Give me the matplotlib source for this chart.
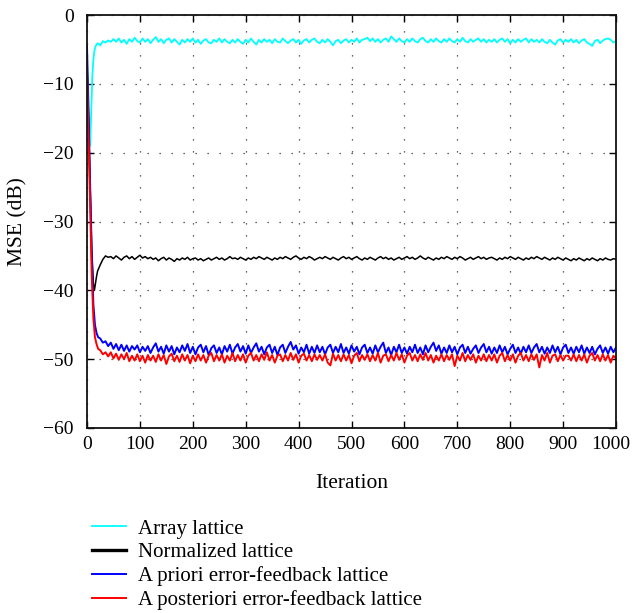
import numpy as np
import matplotlib
matplotlib.use("Agg")
import matplotlib.pyplot as plt
import matplotlib.transforms as mtransforms

# ---------------- data ----------------
# transient part (explicit iterations)
it_cyan_tr = [0, 2, 4, 6, 8, 10, 12, 14, 16, 18, 20, 25, 30, 35, 40]
cyan_tr = [-7.5, -10.0, -16.0, -19.0, -14.0, -9.0, -6.5, -5.2, -4.6, -4.3, -4.1, -4.4, -3.8, -4.0, -3.7]

it_black_tr = [0, 3, 6, 9, 12, 14, 16, 18, 20, 25, 30, 35, 40]
black_tr = [-8.0, -15.0, -25.0, -34.0, -39.0, -40.0, -39.0, -38.0, -37.2, -36.3, -35.5, -35.0, -35.2]

it_blue_tr = [0, 3, 6, 9, 12, 15, 18, 21, 25, 30, 35, 40]
blue_tr = [-4.5, -15.0, -25.0, -35.0, -42.0, -45.0, -46.2, -46.8, -47.0, -47.6, -47.4, -48.1]

it_red_tr = [0, 3, 6, 9, 12, 15, 18, 21, 25, 30, 35, 40]
red_tr = [-8.0, -18.0, -28.0, -38.0, -44.0, -46.8, -47.8, -48.5, -48.7, -49.3, -49.0, -49.6]

# steady-state part: iterations 45, 50, ..., 1000
it_ss = list(range(45, 1001, 5))

cyan_ss = [
    -3.9, -3.5, -3.9, -3.4, -4.0, -3.6, -4.2, -3.5, -3.9, -3.3, -3.8, -4.0, -3.4, -3.9, -3.5, -4.1,
    -3.6, -3.2, -3.9, -3.5, -4.1, -3.6, -3.4, -4.0, -3.5, -3.9, -4.3, -3.6, -4.0, -3.5, -3.9, -3.4,
    -4.0, -3.6, -4.2, -3.7, -3.5, -4.0, -4.1, -3.6, -3.9, -3.4, -4.0, -3.5, -3.9, -4.1, -3.6, -4.0,
    -3.5, -3.9, -4.2, -3.6, -4.0, -3.4, -3.9, -4.3, -3.6, -4.0, -3.5, -3.9, -3.6, -4.1, -3.5, -3.9,
    -4.0, -3.4, -3.8, -4.1, -3.7, -3.5, -4.0, -3.6, -4.2, -3.7, -3.5, -4.0, -3.6, -3.4, -3.9, -4.1,
    -3.6, -4.0, -3.5, -3.9, -4.4, -3.8, -3.6, -4.1, -3.7, -3.5, -4.0, -3.6, -3.9, -3.4, -4.0, -3.6,
    -3.5, -3.3, -3.8, -3.4, -3.9, -3.5, -4.0, -3.6, -3.4, -3.9, -3.1, -3.5, -3.9, -3.4, -3.8, -4.0,
    -3.5, -3.9, -3.4, -3.8, -4.0, -3.5, -3.3, -3.8, -4.0, -3.5, -3.9, -3.4, -3.8, -4.0, -3.5, -3.9,
    -3.4, -3.8, -4.0, -3.5, -3.9, -3.3, -3.8, -4.0, -3.5, -3.9, -3.6, -3.4, -3.9, -3.5, -4.0, -3.6,
    -3.9, -3.5, -4.0, -3.6, -3.4, -3.9, -3.5, -4.1, -3.6, -4.0, -3.5, -3.9, -3.6, -3.4, -4.0, -3.5,
    -3.9, -3.6, -4.0, -3.5, -3.9, -4.1, -3.6, -4.0, -4.3, -3.7, -3.5, -4.0, -3.6, -3.9, -3.5, -4.0,
    -3.6, -4.1, -3.7, -3.5, -4.0, -4.2, -4.5, -3.8, -3.6, -4.1, -3.7, -3.5, -3.4, -3.6, -4.0, -3.8,
]

black_ss = [
    -35.1, -35.4, -35.0, -35.3, -35.6, -35.2, -35.0, -35.4, -35.1, -35.5, -35.2, -34.9, -35.3, -35.1, -35.4, -35.2,
    -35.5, -35.3, -35.7, -35.4, -35.2, -35.6, -35.3, -35.5, -35.8, -35.4, -35.6, -35.3, -35.5, -35.2, -35.6, -35.4,
    -35.3, -35.6, -35.4, -35.7, -35.5, -35.3, -35.6, -35.4, -35.2, -35.5, -35.3, -35.6, -35.4, -35.1, -35.4, -35.3,
    -35.5, -35.2, -35.4, -35.6, -35.3, -35.5, -35.2, -35.4, -35.1, -35.3, -35.5, -35.2, -35.4, -35.6, -35.3, -35.5,
    -35.2, -35.4, -35.1, -35.3, -35.5, -35.2, -35.0, -35.3, -35.5, -35.2, -35.4, -35.1, -35.3, -35.6, -35.4, -35.2,
    -35.4, -35.1, -35.3, -35.5, -35.2, -35.4, -35.6, -35.3, -35.1, -35.4, -35.2, -35.5, -35.3, -35.1, -35.4, -35.6,
    -35.3, -35.5, -35.2, -35.4, -35.6, -35.3, -35.1, -35.4, -35.2, -35.5, -35.3, -35.6, -35.4, -35.2, -35.5, -35.3,
    -35.1, -35.4, -35.2, -35.5, -35.3, -35.0, -35.3, -35.5, -35.2, -35.4, -35.6, -35.3, -35.5, -35.2, -35.4, -35.1,
    -35.3, -35.5, -35.2, -35.4, -35.1, -35.3, -35.6, -35.4, -35.2, -35.5, -35.3, -35.1, -35.4, -35.2, -35.5, -35.3,
    -35.2, -35.4, -35.6, -35.3, -35.5, -35.2, -35.4, -35.1, -35.3, -35.5, -35.2, -35.4, -35.6, -35.3, -35.5, -35.2,
    -35.4, -35.1, -35.3, -35.5, -35.2, -35.4, -35.6, -35.3, -35.5, -35.2, -35.4, -35.6, -35.3, -35.5, -35.7, -35.4,
    -35.6, -35.3, -35.5, -35.7, -35.4, -35.6, -35.3, -35.5, -35.7, -35.4, -35.6, -35.3, -35.5, -35.6, -35.4, -35.5,
]

blue_ss = [
    -47.6, -48.5, -47.8, -48.7, -47.9, -48.8, -48.0, -48.9, -48.1, -48.6, -48.0, -49.0, -48.2, -48.8, -48.1, -49.1,
    -48.3, -47.7, -48.9, -48.2, -49.2, -48.0, -48.9, -48.1, -49.3, -48.3, -49.0, -48.0, -48.8, -47.8, -49.1, -48.2,
    -49.3, -48.3, -47.9, -49.0, -48.1, -49.4, -48.4, -48.0, -49.1, -48.3, -49.3, -48.1, -48.9, -47.9, -49.2, -48.3,
    -47.8, -48.9, -48.1, -49.2, -48.0, -49.1, -48.3, -47.7, -48.9, -48.2, -49.3, -48.3, -47.9, -49.1, -48.2, -49.4,
    -48.3, -47.9, -49.1, -48.2, -47.5, -48.6, -48.0, -49.2, -48.3, -49.0, -47.9, -49.2, -48.2, -49.1, -48.0, -49.0,
    -48.2, -49.3, -48.3, -47.9, -49.1, -48.2, -49.0, -47.8, -49.1, -48.3, -49.2, -48.0, -48.9, -48.2, -49.3, -48.3,
    -47.9, -49.1, -48.3, -49.2, -48.0, -49.0, -48.2, -47.6, -49.1, -48.3, -49.4, -48.2, -49.0, -47.9, -49.1, -48.3,
    -49.2, -48.2, -49.0, -47.9, -49.1, -48.3, -49.3, -48.0, -49.0, -48.2, -47.6, -48.8, -48.0, -49.2, -48.3, -49.1,
    -48.0, -49.0, -48.2, -49.3, -48.3, -47.9, -49.1, -48.2, -49.2, -48.5, -48.0, -49.1, -48.3, -47.8, -49.0, -48.2,
    -49.2, -48.3, -49.1, -48.0, -49.0, -48.2, -49.3, -48.5, -47.9, -49.1, -48.3, -49.2, -48.2, -49.0, -48.0, -49.1,
    -48.3, -47.8, -49.0, -48.2, -49.2, -48.3, -49.1, -48.0, -49.0, -48.2, -49.3, -48.3, -47.9, -49.1, -48.3, -49.2,
    -48.2, -49.0, -48.0, -49.2, -48.3, -49.1, -48.2, -49.3, -48.5, -48.0, -49.1, -48.3, -49.2, -48.2, -49.0, -48.3,
]

red_ss = [
    -49.0, -49.9, -49.2, -50.1, -49.3, -50.0, -49.1, -50.3, -49.5, -50.2, -49.3, -50.3, -49.5, -50.5, -49.4, -50.2,
    -49.5, -50.4, -49.3, -50.2, -49.4, -50.7, -49.6, -49.2, -50.3, -49.5, -50.4, -49.3, -50.2, -49.4, -50.6, -49.5,
    -50.3, -49.3, -50.2, -49.4, -50.5, -49.5, -49.1, -50.3, -49.4, -50.2, -49.3, -50.5, -49.5, -50.2, -49.1, -50.3,
    -49.4, -50.2, -49.3, -50.5, -49.5, -49.1, -50.2, -49.4, -50.3, -49.3, -50.1, -49.0, -50.2, -49.4, -50.5, -49.5,
    -49.3, -50.3, -49.4, -50.2, -49.1, -50.1, -49.3, -50.5, -49.5, -49.2, -50.2, -49.4, -50.3, -49.3, -50.1, -49.4,
    -50.2, -49.3, -50.5, -50.9, -49.2, -50.2, -49.4, -50.3, -49.3, -50.2, -49.4, -50.6, -49.5, -49.1, -50.3, -49.4,
    -50.1, -49.3, -50.3, -49.4, -50.2, -49.1, -50.5, -49.5, -49.3, -50.3, -49.4, -50.2, -49.1, -50.1, -49.3, -50.5,
    -49.5, -49.1, -50.2, -49.4, -50.3, -49.3, -50.1, -49.1, -50.2, -49.4, -50.5, -49.5, -50.2, -49.3, -50.3, -49.4,
    -50.1, -49.3, -51.0, -49.5, -50.2, -49.1, -50.3, -49.4, -50.1, -49.3, -50.5, -49.5, -50.2, -49.3, -50.3, -49.4,
    -50.2, -49.3, -50.5, -49.5, -49.1, -50.3, -49.4, -50.2, -49.3, -50.5, -49.5, -49.1, -50.2, -49.4, -50.3, -49.3,
    -50.1, -49.3, -51.2, -49.4, -50.2, -49.1, -50.5, -49.5, -49.3, -50.3, -49.4, -50.2, -49.5, -49.5, -50.2, -49.3,
    -50.3, -49.4, -50.2, -49.3, -50.5, -49.5, -49.1, -50.2, -49.4, -50.3, -49.3, -50.2, -49.4, -50.5, -49.5, -49.9,
]

labels = ["Array lattice", "Normalized lattice",
          "A priori error-feedback lattice", "A posteriori error-feedback lattice"]
xticks = [0, 100, 200, 300, 400, 500, 600, 700, 800, 900, 1000]
yticks = [0, -10, -20, -30, -40, -50, -60]

# ---------------- plot ----------------
plt.rcParams['font.family'] = ['Liberation Serif', 'DejaVu Serif']

fig = plt.figure(figsize=(6.33, 6.13), dpi=100)
ax = fig.add_axes([87/633, 1-428/613, (616-87)/633, (428-15)/613])

l1, = ax.plot(it_cyan_tr + it_ss, cyan_tr + cyan_ss, color='#00ffff', lw=1.3)
l2, = ax.plot(it_black_tr + it_ss, black_tr + black_ss, color='black', lw=1.1)
l3, = ax.plot(it_blue_tr + it_ss, blue_tr + blue_ss, color='#0000ff', lw=1.4)
l4, = ax.plot(it_red_tr + it_ss, red_tr + red_ss, color='#ff0000', lw=1.4)

ax.set_xlim(0, 1000)
ax.set_ylim(-60, 0)
ax.set_xticks(xticks)
ax.set_yticks(yticks)
ax.set_xticklabels([str(v) for v in xticks])
ax.set_yticklabels([("\u2212" + str(-v)) if v < 0 else str(v) for v in yticks])
ax.tick_params(direction='in', length=5, width=1, top=True, right=True, labelsize=14, colors='black')
ax.tick_params(axis='x', pad=6)
ax.tick_params(axis='y', pad=9.5)
# keep the last x tick label inside the canvas
last = ax.get_xticklabels()[-1]
last.set_transform(last.get_transform() + mtransforms.ScaledTranslation(-4/72, 0, fig.dpi_scale_trans))
ax.grid(True, color='#333333', linestyle=(0, (1, 8.6)), linewidth=0.9)
for s in ax.spines.values():
    s.set_linewidth(1.3)
    s.set_color('#111111')

ax.set_xlabel("Iteration", fontsize=15.5, va='center')
ax.xaxis.set_label_coords(0.5, (428 - 483) / 413)
ax.set_ylabel("MSE (dB)", fontsize=15.5, va='center')
ax.yaxis.set_label_coords((18 - 87) / 529, 0.5)

h2 = plt.Line2D([], [], color='black', lw=2.4)
fig.legend([l1, h2, l3, l4], labels, loc='upper left',
           bbox_to_anchor=(92/633, 1-519/613), frameon=False, fontsize=15,
           handlelength=1.63, handletextpad=0.58, labelspacing=0.2,
           borderaxespad=0, borderpad=0)

fig.savefig("out.png", dpi=100)
